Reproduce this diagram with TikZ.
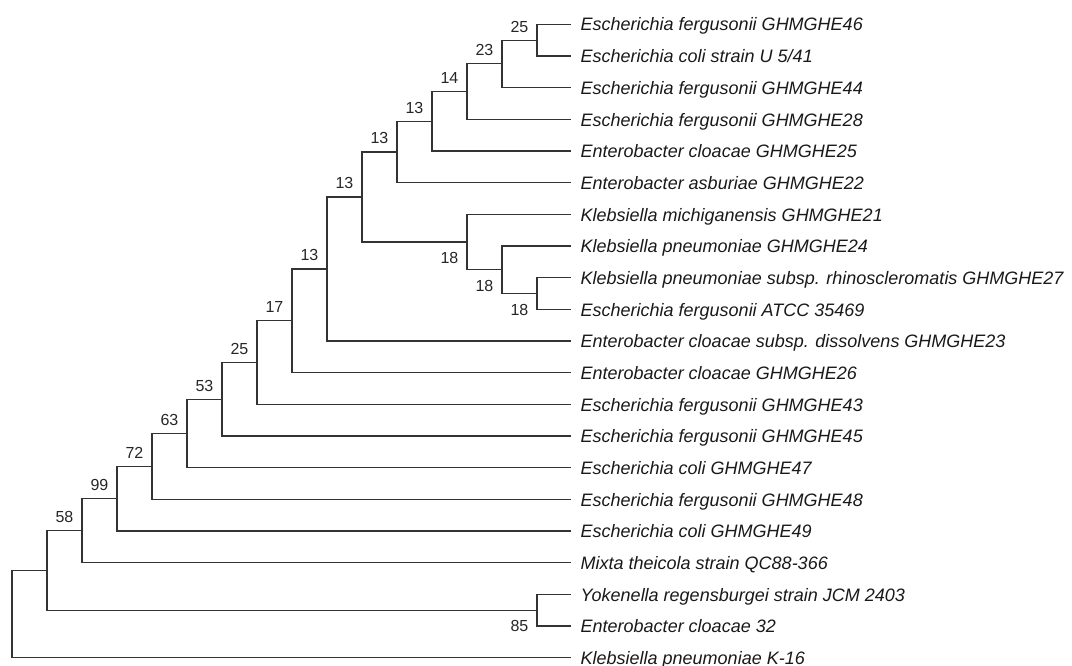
\documentclass[tikz,border=0pt]{standalone}
\usepackage{fontspec}
\usetikzlibrary{calc}
\newfontfamily\arialf{Liberation Sans}
\begin{document}
\begin{tikzpicture}[x=1pt,y=-1pt,
  branch/.style={draw=black!80,line width=1.2pt},
  leaf/.style={anchor=base west,inner sep=0pt,text=black!90,font=\arialf\itshape\fontsize{18}{21}\selectfont},
  supp/.style={anchor=base east,inner sep=0pt,text=black!85,font=\arialf\fontsize{16}{18}\selectfont}]
\useasboundingbox (0,0) rectangle (1072,666);
% leaf tips
\foreach \i/\t in {1/{Escherichia fergusonii GHMGHE46},
                   2/{Escherichia coli strain U 5/41},
                   3/{Escherichia fergusonii GHMGHE44},
                   4/{Escherichia fergusonii GHMGHE28},
                   5/{Enterobacter cloacae GHMGHE25},
                   6/{Enterobacter asburiae GHMGHE22},
                   7/{Klebsiella michiganensis GHMGHE21},
                   8/{Klebsiella pneumoniae GHMGHE24},
                   9/{Klebsiella pneumoniae subsp. rhinoscleromatis GHMGHE27},
                   10/{Escherichia fergusonii ATCC 35469},
                   11/{Enterobacter cloacae subsp. dissolvens GHMGHE23},
                   12/{Enterobacter cloacae GHMGHE26},
                   13/{Escherichia fergusonii GHMGHE43},
                   14/{Escherichia fergusonii GHMGHE45},
                   15/{Escherichia coli GHMGHE47},
                   16/{Escherichia fergusonii GHMGHE48},
                   17/{Escherichia coli GHMGHE49},
                   18/{Mixta theicola strain QC88-366},
                   19/{Yokenella regensburgei strain JCM 2403},
                   20/{Enterobacter cloacae 32},
                   21/{Klebsiella pneumoniae K-16}}{
  \pgfmathsetmacro{\yy}{24.3+(\i-1)*31.67}
  \coordinate (l\i) at (571,\yy);
  \node[leaf] (t\i) at (580.5,\yy+6.7) {\t};
}
% internal nodes
\coordinate (n1) at (537,40.15);
\coordinate (n2) at (502,63.9);
\coordinate (n3) at (467,91.6);
\coordinate (n4) at (432,121.3);
\coordinate (n5) at (397,152.0);
\coordinate (m3) at (537,293.5);
\coordinate (m2) at (502,269.75);
\coordinate (m1) at (467,242.0);
\coordinate (n6) at (362,197.0);
\coordinate (n7) at (327,269.0);
\coordinate (n8) at (292,320.8);
\coordinate (n9) at (257,362.6);
\coordinate (n10) at (222,399.3);
\coordinate (n11) at (187,433.5);
\coordinate (n12) at (152,466.4);
\coordinate (n13) at (117,498.7);
\coordinate (n14) at (82,530.7);
\coordinate (n85) at (537,610.1);
\coordinate (n15) at (47,570.4);
\coordinate (root) at (12,614.0);
% branches
\foreach \p/\a/\b in {n1/l1/l2, n2/n1/l3, n3/n2/l4, n4/n3/l5, n5/n4/l6,
                      m3/l9/l10, m2/l8/m3, m1/l7/m2, n6/n5/m1, n7/n6/l11,
                      n8/n7/l12, n9/n8/l13, n10/n9/l14, n11/n10/l15,
                      n12/n11/l16, n13/n12/l17, n14/n13/l18, n85/l19/l20,
                      n15/n14/n85, root/n15/l21}{
  \draw[branch] (\a) -| (\p) |- (\b);
}
% support values above
\foreach \p/\v in {n1/25, n2/23, n3/14, n4/13, n5/13, n6/13, n7/13, n8/17,
                   n9/25, n10/53, n11/63, n12/72, n13/99, n14/58}{
  \node[supp] (s\p) at ($(\p)+(-8.5,-8)$) {\v};
}
% support values below
\foreach \p/\v in {m1/18, m2/18, m3/18, n85/85}{
  \node[supp] (s\p) at ($(\p)+(-8.5,21.7)$) {\v};
}
\end{tikzpicture}
\end{document}
